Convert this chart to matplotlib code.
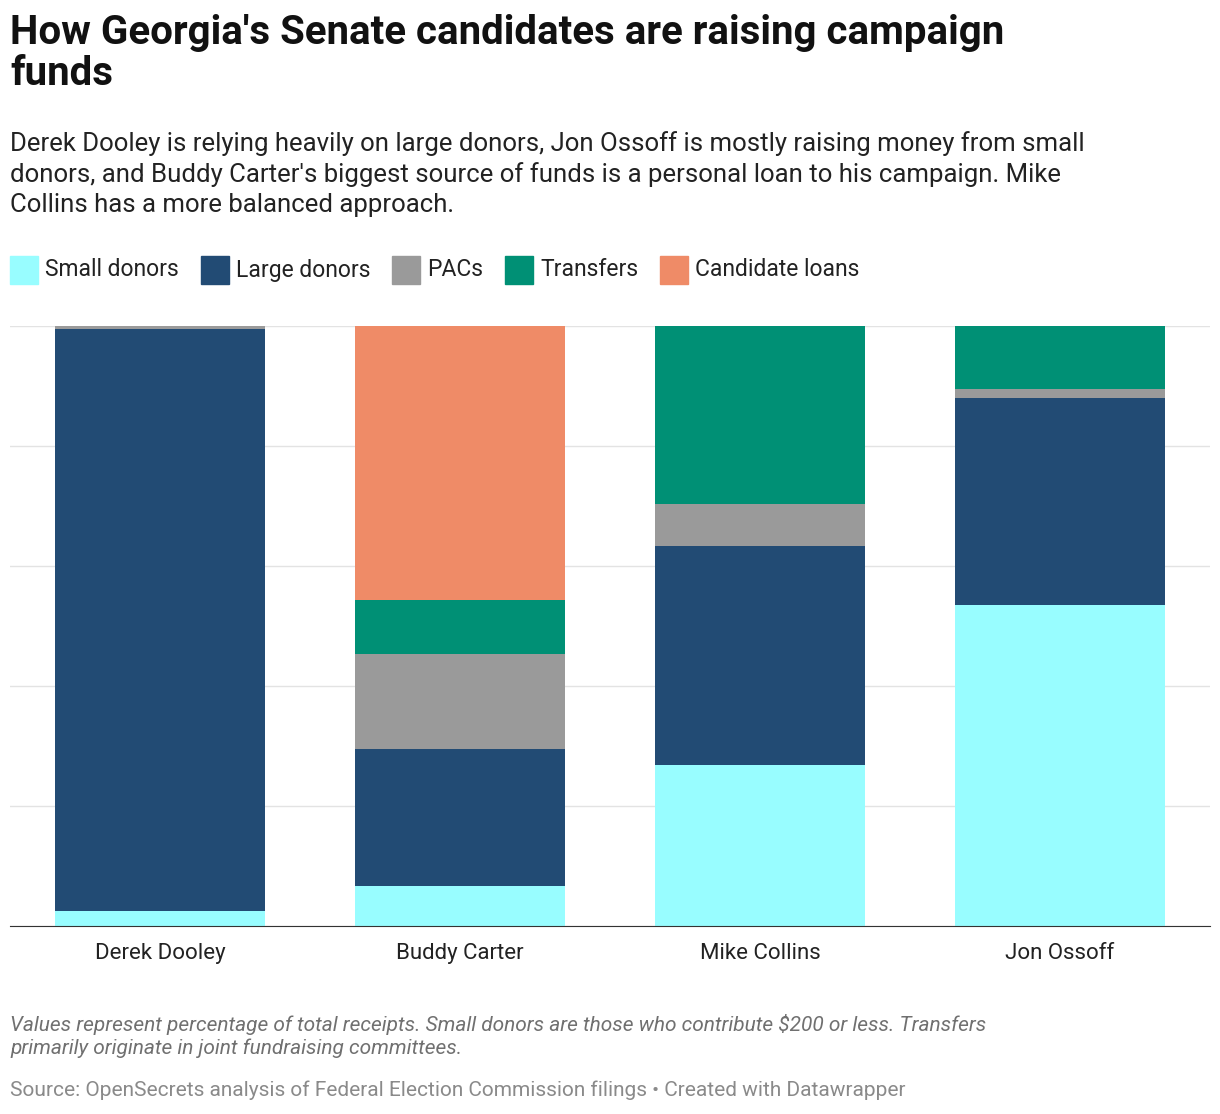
import matplotlib.pyplot as plt
import numpy as np
from matplotlib.patches import Rectangle

plt.rcParams['font.family'] = ['Roboto', 'DejaVu Sans']

# ─── Data ──────────────────────────────────────────────────────────────────────
candidates = ["Derek Dooley", "Buddy Carter", "Mike Collins", "Jon Ossoff"]
series = ["Small donors", "Large donors", "PACs", "Transfers", "Candidate loans"]
colors = ["#98fdff", "#224b74", "#9a9a9a", "#009075", "#ef8b67"]

small_donors = [2.5, 6.7, 26.8, 53.5]
large_donors = [97.0, 22.8, 36.5, 34.5]
pacs = [0.5, 15.8, 7.0, 1.5]
transfers = [0.0, 9.0, 29.7, 10.5]
candidate_loans = [0.0, 45.7, 0.0, 0.0]
values = [small_donors, large_donors, pacs, transfers, candidate_loans]

# ─── Figure ────────────────────────────────────────────────────────────────────
fig = plt.figure(figsize=(12.2, 11.14), dpi=100)
ax = fig.add_axes([10 / 1220, 1 - 926 / 1114, 1200 / 1220, 600 / 1114])

x = np.arange(len(candidates))
bottom = np.zeros(len(candidates))
for name, vals, c in zip(series, values, colors):
    ax.bar(x, vals, bottom=bottom, width=0.7, color=c, zorder=2)
    bottom += np.array(vals)

ax.set_xlim(-0.5, 3.5)
ax.set_ylim(0, 100)
ax.set_yticks([0, 20, 40, 60, 80, 100])
ax.set_yticklabels([])
ax.tick_params(axis='y', length=0)
ax.grid(axis='y', color='#e3e3e3', lw=1, zorder=0)
for s in ['top', 'right', 'left']:
    ax.spines[s].set_visible(False)
ax.spines['bottom'].set_color('#333333')
ax.set_xticks(x)
ax.set_xticklabels(candidates, fontsize=16, color='#222222')
ax.tick_params(axis='x', length=0, pad=12)

# ─── Text ──────────────────────────────────────────────────────────────────────
fig.text(10 / 1220, 1 - 14 / 1114, "How Georgia's Senate candidates are raising campaign\nfunds",
         fontsize=29, fontweight='bold', va='top', linespacing=1.1, color='#111111')
fig.text(10 / 1220, 1 - 131 / 1114,
         "Derek Dooley is relying heavily on large donors, Jon Ossoff is mostly raising money from small\n"
         "donors, and Buddy Carter's biggest source of funds is a personal loan to his campaign. Mike\n"
         "Collins has a more balanced approach.",
         fontsize=18.5, va='top', linespacing=1.3, color='#222222')

lx = 10
for name, c in zip(series, colors):
    fig.patches.append(Rectangle((lx / 1220, 1 - 284 / 1114), 28 / 1220, 28 / 1114,
                                 color=c, transform=fig.transFigure))
    t = fig.text((lx + 35) / 1220, 1 - 270 / 1114, name, fontsize=16.5, va='center', color='#222222')
    fig.canvas.draw()
    w = t.get_window_extent().width
    lx += 35 + w + 22

fig.text(10 / 1220, 1 - 1014 / 1114,
         "Values represent percentage of total receipts. Small donors are those who contribute $200 or less. Transfers\n"
         "primarily originate in joint fundraising committees.",
         fontsize=15, style='italic', va='top', color='#707070', linespacing=1.25)
fig.text(10 / 1220, 1 - 1090 / 1114,
         "Source: OpenSecrets analysis of Federal Election Commission filings • Created with Datawrapper",
         fontsize=15, va='center', color='#8a8a8a')

fig.savefig("out.png", dpi=100, facecolor='white')
